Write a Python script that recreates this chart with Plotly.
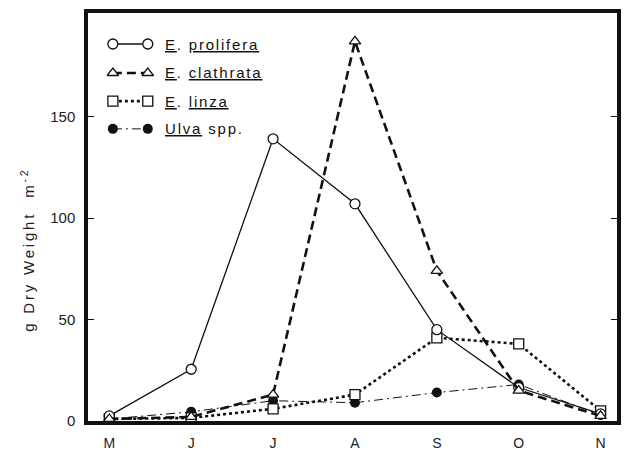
import plotly.graph_objects as go

# Monthly biomass of green macroalgae (g dry weight per m^2)
months = ["M", "J", "J", "A", "S", "O", "N"]
prolifera = [2.5, 25.5, 139, 107, 45, 16.5, 3.5]
clathrata = [1.0, 2.0, 13.0, 187, 74, 15, 2.5]
linza = [1.0, 1.5, 6.0, 13.0, 41, 38, 5.0]
ulva = [1.0, 4.5, 10.0, 9.0, 14.0, 18.0, 3.0]

series_names = ["<u>E</u>. <u>prolifera</u>", "<u>E</u>. <u>clathrata</u>",
                "<u>E</u>. <u>linza</u>", "<u>Ulva</u> spp."]
y_ticks = [0, 50, 100, 150]
y_title = "g Dry Weight  m<sup>-2</sup>"

INK = "#111111"
FONT = "Liberation Sans, Arial, sans-serif"

styles = [
    dict(line=dict(color=INK, width=1.3, dash="solid"),
         marker=dict(symbol="circle", size=10, color="white", line=dict(width=1.3, color=INK))),
    dict(line=dict(color=INK, width=2.6, dash="9px,5px"),
         marker=dict(symbol="triangle-up", size=10, color="white", line=dict(width=1.3, color=INK))),
    dict(line=dict(color=INK, width=2.6, dash="dot"),
         marker=dict(symbol="square", size=10, color="white", line=dict(width=1.3, color=INK))),
    dict(line=dict(color=INK, width=1.0, dash="9px,4px,2px,4px"),
         marker=dict(symbol="circle", size=10, color=INK, line=dict(width=0))),
]
data = [prolifera, clathrata, linza, ulva]

fig = go.Figure()
x_idx = list(range(len(months)))
# draw filled/background series first so open markers sit on top
for k in [3, 2, 0, 1]:
    fig.add_trace(go.Scatter(x=x_idx, y=data[k], mode="lines+markers",
                             line=styles[k]["line"], marker=styles[k]["marker"],
                             showlegend=False, cliponaxis=False, hoverinfo="skip"))

# hand-drawn style key inside the frame (overlay axis in unit coordinates)
key_x0, key_x1, text_x = 0.047, 0.113, 0.142
key_rows = [0.924, 0.853, 0.784, 0.716]
for k, yk in enumerate(key_rows):
    fig.add_trace(go.Scatter(x=[key_x0, key_x1], y=[yk, yk], mode="lines+markers",
                             line=styles[k]["line"], marker=styles[k]["marker"],
                             xaxis="x2", yaxis="y2", showlegend=False,
                             cliponaxis=False, hoverinfo="skip"))
    fig.add_annotation(x=text_x, y=yk, xref="x2", yref="y2", xanchor="left",
                       yanchor="middle", showarrow=False,
                       text=f'<span style="letter-spacing:1.8px">{series_names[k]}</span>',
                       font=dict(family=FONT, size=15, color=INK))

# y-axis title placed as a rotated annotation, slightly below the axis centre
fig.add_annotation(x=-0.115, y=0.42, xref="paper", yref="paper", xanchor="center",
                   yanchor="middle", showarrow=False, textangle=-90,
                   text=f'<span style="letter-spacing:2.8px">{y_title}</span>',
                   font=dict(family=FONT, size=15, color="#222222"))

fig.update_layout(
    width=626, height=452,
    margin=dict(l=88, r=9, t=13, b=31),
    paper_bgcolor="white", plot_bgcolor="white",
    font=dict(family=FONT, size=15, color="#222222"),
    xaxis=dict(range=[-0.26, 6.2], tickvals=x_idx, ticktext=months,
               showgrid=False, zeroline=False, showline=True, linewidth=3.5,
               linecolor=INK, mirror=True, ticks="", ticklabelstandoff=6,
               tickfont=dict(size=14), automargin=False),
    yaxis=dict(range=[0, 201], tickvals=y_ticks, showgrid=False, zeroline=False,
               showline=True, linewidth=3.5, linecolor=INK, mirror="ticks",
               ticks="inside", ticklen=6, tickwidth=1, tickcolor=INK,
               ticklabelstandoff=6, automargin=False),
    xaxis2=dict(range=[0, 1], overlaying="x", visible=False, fixedrange=True),
    yaxis2=dict(range=[0, 1], overlaying="y", visible=False, fixedrange=True),
)

fig.write_html("out.html")
